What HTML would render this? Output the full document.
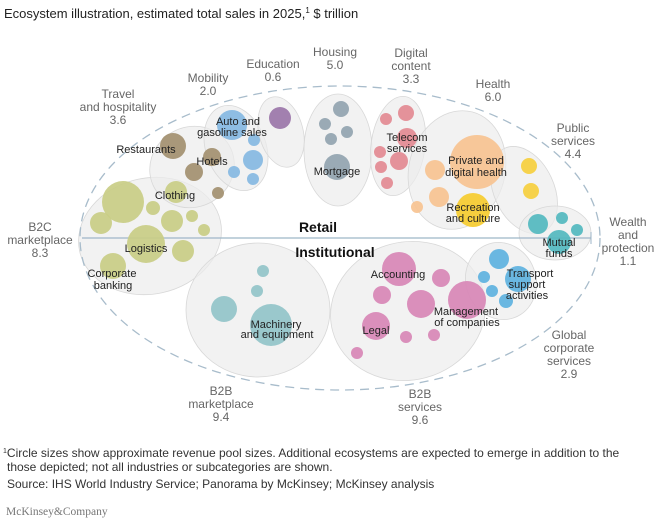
<!DOCTYPE html>
<html><head><meta charset="utf-8"><style>
body{margin:0;background:#fff;width:667px;height:521px;overflow:hidden;font-family:"Liberation Sans",Arial,sans-serif}
svg{position:absolute;left:0;top:0}
</style></head><body>
<svg id="chart" width="667" height="521" viewBox="0 0 667 521" font-family="Liberation Sans, Arial, sans-serif">
<text x="4" y="18" font-size="13" fill="#222">Ecosystem illustration, estimated total sales in 2025,<tspan font-size="8" dy="-5">1</tspan><tspan dy="5"> $ trillion</tspan></text>
<g id="blobs" fill="#ececec" fill-opacity="0.7" stroke="#d8d8d8" stroke-width="0.8">
<ellipse cx="150" cy="236" rx="72" ry="58" transform="rotate(-12 150 236)"/>
<ellipse cx="192" cy="167" rx="43" ry="40" transform="rotate(-30 192 167)"/>
<ellipse cx="236" cy="148" rx="30" ry="44" transform="rotate(-20 236 148)"/>
<ellipse cx="281" cy="132" rx="22" ry="36" transform="rotate(-15 281 132)"/>
<ellipse cx="338" cy="150" rx="34" ry="56"/>
<ellipse cx="398" cy="146" rx="27" ry="50" transform="rotate(8 398 146)"/>
<ellipse cx="457" cy="170" rx="48" ry="60" transform="rotate(15 457 170)"/>
<ellipse cx="524" cy="190" rx="30" ry="46" transform="rotate(-25 524 190)"/>
<ellipse cx="555" cy="233" rx="36" ry="27"/>
<ellipse cx="258" cy="310" rx="72" ry="67"/>
<ellipse cx="408" cy="311" rx="78" ry="69" transform="rotate(-15 408 311)"/>
<ellipse cx="501" cy="281" rx="35" ry="39" transform="rotate(-20 501 281)"/>
</g>
<ellipse cx="340" cy="238" rx="260" ry="152" fill="none" stroke="#a8bccb" stroke-width="1.3" stroke-dasharray="9,6"/>
<line x1="82" y1="238" x2="591" y2="238" stroke="#9eb6c8" stroke-width="1.3"/>
<line x1="591" y1="232" x2="591" y2="244" stroke="#9eb6c8" stroke-width="1"/>
<g id="bubbles"></g>
<text x="318" y="232" font-size="14" font-weight="bold" fill="#111" text-anchor="middle">Retail</text>
<text x="335" y="257" font-size="14" font-weight="bold" fill="#111" text-anchor="middle">Institutional</text>
<g id="labels" font-size="11" fill="#222" text-anchor="middle"></g>
<g id="eco" font-size="12" fill="#666" text-anchor="middle"></g>
<text x="3" y="457" font-size="12" fill="#333"><tspan font-size="7" dy="-4">1</tspan><tspan dy="4">Circle sizes show approximate revenue pool sizes. Additional ecosystems are expected to emerge in addition to the</tspan></text>
<text x="7" y="471" font-size="12" fill="#333">those depicted; not all industries or subcategories are shown.</text>
<text x="7" y="488" font-size="12" fill="#333">Source: IHS World Industry Service; Panorama by McKinsey; McKinsey analysis</text>
<text x="6" y="515" font-size="11.5" fill="#777" font-family="Liberation Serif, serif">McKinsey&amp;Company</text>
</svg>
<script>
const ecoNames=[["Travel","and hospitality"],["Mobility"],["Education"],["Housing"],["Digital","content"],["Health"],["Public","services"],["Wealth","and","protection"],["B2C","marketplace"],["B2B","marketplace"],["B2B","services"],["Global","corporate","services"]];
const ecoValues=[3.6,2.0,0.6,5.0,3.3,6.0,4.4,1.1,8.3,9.4,9.6,2.9];
const ecoAnchor=[[118,94],[208,78],[273,64],[335,52],[411,53],[493,84],[573,128],[628,222],[40,227],[221,391],[420,394],[569,335]];
const bubbleColor=["#a39070","#86b8e2","#9b76a9","#93a4b0","#e38a92","#f7c391","#f6cf3e","#52b8bf","#c9cd86","#92c4c9","#d887b6","#5eb2e0"];
// bubble revenue sizes (radius-scale) per ecosystem, with layout centres
const bubbleSize=[
[13,9,9,6],[15,6,10,6,6],[11],[8,6,6,6,13],[8,6,10,6,9,6,6],[27,10,10,6],[8,8],[10,6,6,12],
[21,7,11,6,6,11,11,19,11,13],[6,6,13,21],[17,9,9,14,14,6,6,6,19],[10,6,6,13,7]];
const bubbleCenter=[
[[173,146],[212,157],[194,172],[218,193]],
[[232,125],[254,140],[253,160],[234,172],[253,179]],
[[280,118]],
[[341,109],[325,124],[347,132],[331,139],[337,167]],
[[406,113],[386,119],[407,138],[380,152],[399,161],[381,167],[387,183]],
[[477,162],[435,170],[439,197],[417,207]],
[[529,166],[531,191]],
[[538,224],[562,218],[577,230],[559,242]],
[[123,202],[153,208],[176,192],[192,216],[204,230],[172,221],[101,223],[146,244],[183,251],[113,266]],
[[263,271],[257,291],[224,309],[271,325]],
[[399,269],[441,278],[382,295],[421,304],[376,326],[406,337],[434,335],[357,353],[467,300]],
[[499,259],[484,277],[492,291],[518,279],[506,301]]];
const extraBubble={size:17,center:[473,210],color:"#f6cf3e"};
const bubbleLabels=[["Restaurants",146,149],["Hotels",212,161],["Auto and",238,121],["gasoline sales",232,132],["Mortgage",337,171],["Telecom",407,137],["services",407,148],["Private and",476,160],["digital health",476,172],["Recreation",473,207],["and culture",473,218],["Mutual",559,242],["funds",559,253],["Clothing",175,195],["Logistics",146,248],["Corporate",112,273],["banking",113,285],["Machinery",276,324],["and equipment",277,334],["Accounting",398,274],["Legal",376,330],["Management",466,311],["of companies",467,322],["Transport",530,273],["support",527,284],["activities",527,295]];
const NS="http://www.w3.org/2000/svg";
const gb=document.getElementById('bubbles');
bubbleSize.forEach((arr,i)=>{arr.forEach((s,j)=>{
 const c=document.createElementNS(NS,'circle');
 c.setAttribute('cx',bubbleCenter[i][j][0]);c.setAttribute('cy',bubbleCenter[i][j][1]);c.setAttribute('r',s);
 c.setAttribute('fill',bubbleColor[i]);c.setAttribute('fill-opacity','0.92');
 
 
 gb.appendChild(c);});
 if(i===5){const c=document.createElementNS(NS,'circle');
 c.setAttribute('cx',extraBubble.center[0]);c.setAttribute('cy',extraBubble.center[1]);c.setAttribute('r',extraBubble.size);c.setAttribute('fill',extraBubble.color);
 
 
 gb.appendChild(c);}
});
const gl=document.getElementById('labels');
bubbleLabels.forEach(l=>{const t=document.createElementNS(NS,'text');
 t.setAttribute('x',l[1]);t.setAttribute('y',l[2]+4);t.textContent=l[0];
 
 
 gl.appendChild(t);});
const ge=document.getElementById('eco');
ecoNames.forEach((lines,i)=>{const all=lines.concat([ecoValues[i].toFixed(1)]);
 all.forEach((s,k)=>{const t=document.createElementNS(NS,'text');
 t.setAttribute('x',ecoAnchor[i][0]);t.setAttribute('y',ecoAnchor[i][1]+4+k*13);t.textContent=s;
 
 
 ge.appendChild(t);});});
</script>
</body></html>
